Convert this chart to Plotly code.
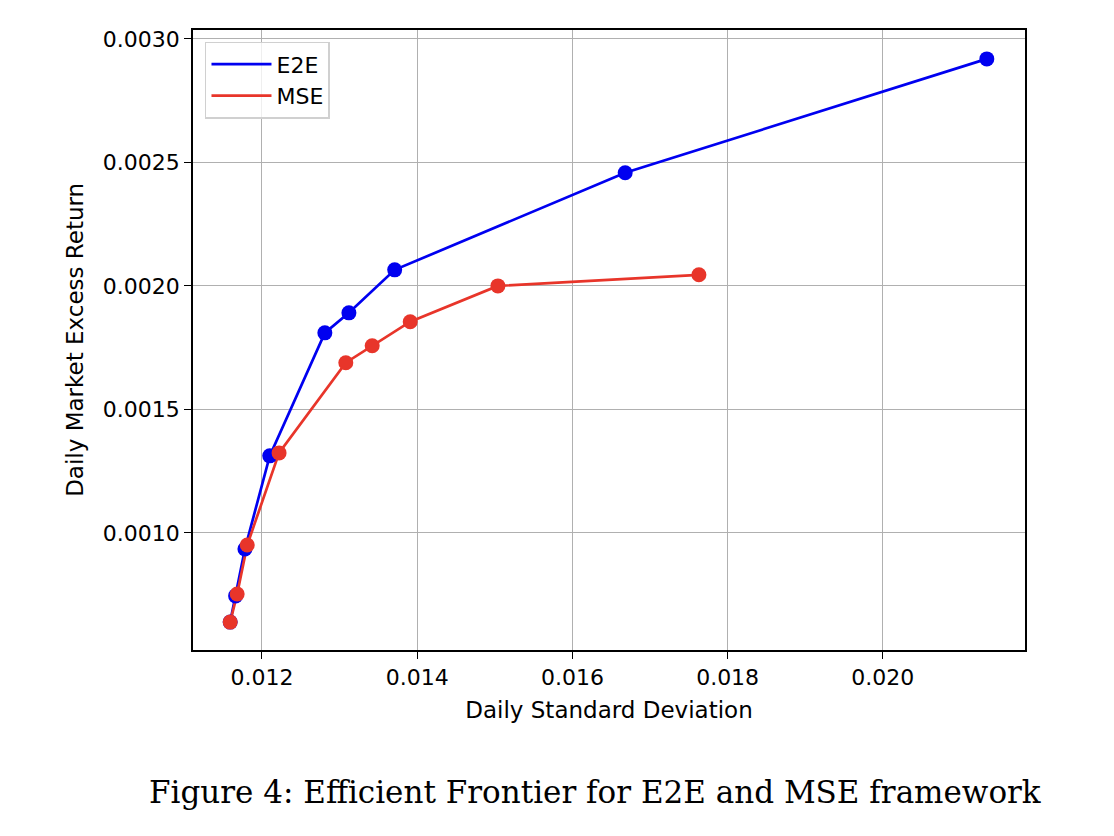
import plotly.graph_objs as go

# values
e2e_std = [0.01159, 0.01166, 0.01178, 0.01210, 0.01281, 0.01312, 0.01371, 0.01668, 0.02134]
e2e_ret = [0.000639, 0.000745, 0.000935, 0.001312, 0.001810, 0.001891, 0.002065, 0.002458, 0.002919]

mse_std = [0.01159, 0.01168, 0.01181, 0.01222, 0.01308, 0.01342, 0.01391, 0.01504, 0.01763]
mse_ret = [0.000639, 0.000753, 0.000951, 0.001324, 0.001689, 0.001758, 0.001855, 0.002000, 0.002045]

x_ticks = [0.012, 0.014, 0.016, 0.018, 0.020]
x_tick_text = ["0.012", "0.014", "0.016", "0.018", "0.020"]
y_ticks = [0.0010, 0.0015, 0.0020, 0.0025, 0.0030]
y_tick_text = ["0.0010", "0.0015", "0.0020", "0.0025", "0.0030"]

blue = "#0000f0"
red = "#e8352a"

fig = go.Figure()
# lines carry the legend entries, markers are drawn on top without legend
fig.add_trace(go.Scatter(x=e2e_std, y=e2e_ret, mode="lines", name="E2E",
                         line=dict(color=blue, width=2.7)))
fig.add_trace(go.Scatter(x=mse_std, y=mse_ret, mode="lines", name="MSE",
                         line=dict(color=red, width=2.7)))
fig.add_trace(go.Scatter(x=e2e_std, y=e2e_ret, mode="markers", showlegend=False,
                         marker=dict(color=blue, size=15)))
fig.add_trace(go.Scatter(x=mse_std, y=mse_ret, mode="markers", showlegend=False,
                         marker=dict(color=red, size=15)))

axis_common = dict(showgrid=True, gridcolor="#b0b0b0", gridwidth=1.3,
                   showline=True, linecolor="black", linewidth=1.5, mirror=True,
                   ticks="outside", ticklen=7, tickwidth=1.3, tickcolor="black",
                   zeroline=False, tickfont=dict(size=22, color="black"))

fig.update_layout(
    width=1114, height=836,
    paper_bgcolor="white", plot_bgcolor="white",
    font=dict(family="DejaVu Sans", color="black"),
    margin=dict(l=185, r=97, t=22, b=194),
    xaxis=dict(title=dict(text="Daily Standard Deviation", font=dict(size=23), standoff=13),
               range=[0.011111, 0.021832], tickvals=x_ticks, ticktext=x_tick_text, **axis_common),
    yaxis=dict(range=[0.000526, 0.003036], tickvals=y_ticks, ticktext=y_tick_text, **axis_common),
    showlegend=True,
    legend=dict(x=0.0144, y=0.981, xanchor="left", yanchor="top",
                bgcolor="rgba(255,255,255,0.8)", bordercolor="#d0d0d0", borderwidth=1.5,
                font=dict(size=22), itemwidth=60, tracegroupgap=2),
    annotations=[
        dict(text="Daily Market Excess Return", xref="paper", yref="paper",
             x=-0.142, y=0.5, xanchor="center", yanchor="middle", textangle=-90,
             showarrow=False, font=dict(size=23, color="black")),
        dict(text="Figure 4: Efficient Frontier for E2E and MSE framework",
             xref="paper", yref="paper", x=0.483, y=-0.229, xanchor="center", yanchor="middle",
             showarrow=False, font=dict(family="DejaVu Serif", size=31, color="black")),
    ],
)

fig.write_html("out.html")
